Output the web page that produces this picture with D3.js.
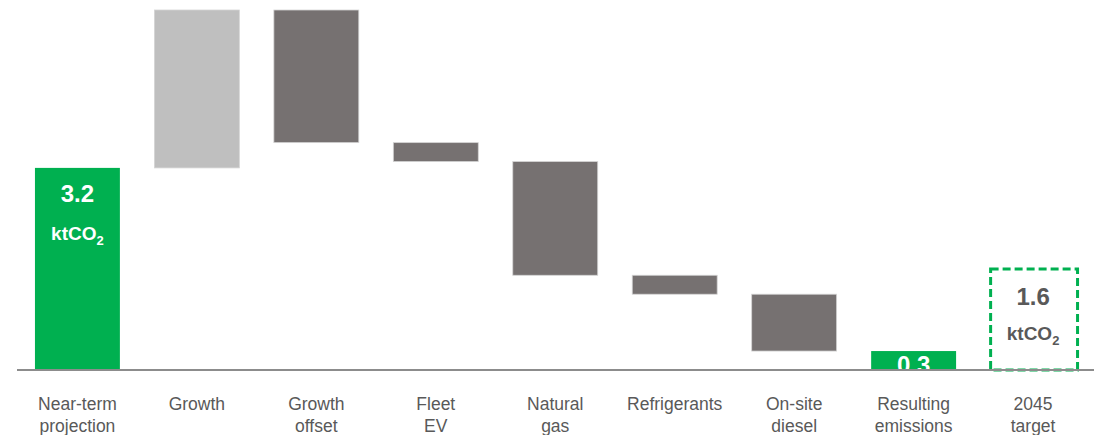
<!DOCTYPE html>
<html>
<head>
<meta charset="utf-8">
<script src="https://cdn.jsdelivr.net/npm/d3@7"></script>
<style>
  html, body { margin: 0; padding: 0; background: #fff; }
  svg { display: block; font-family: "Liberation Sans", Arial, sans-serif; }
</style>
</head>
<body>
<svg id="chart" width="1104" height="435"></svg>
<script>
// Emissions bridge, ktCO2
const categories = ["Near-term projection", "Growth", "Growth offset", "Fleet EV", "Natural gas",
                    "Refrigerants", "On-site diesel", "Resulting emissions", "2045 target"];
const labelLines = [["Near-term", "projection"], ["Growth"], ["Growth", "offset"], ["Fleet", "EV"],
                    ["Natural", "gas"], ["Refrigerants"], ["On-site", "diesel"],
                    ["Resulting", "emissions"], ["2045", "target"]];
// signed change per step; totals are marked by kind
const values = [3.2, 2.5, -2.1, -0.3, -1.8, -0.3, -0.9, 0.3, 1.6];
const kinds = ["total", "increase", "decrease", "decrease", "decrease", "decrease", "decrease", "total", "target"];

const colors = { total: "#00B050", increase: "#BFBFBF", decrease: "#767171", target: "#00B050" };

// running start/end for each step
let running = 0;
const steps = categories.map((c, i) => {
  let y0, y1;
  if (kinds[i] === "total" || kinds[i] === "target") { y0 = 0; y1 = values[i]; running = values[i]; }
  else { y0 = running; y1 = running + values[i]; running = y1; }
  return { cat: c, lines: labelLines[i], kind: kinds[i], value: values[i], lo: Math.min(y0, y1), hi: Math.max(y0, y1) };
});

const svg = d3.select("#chart");
const baseY = 370;

const x = d3.scaleBand().domain(categories).range([17.75, 1092.75]).paddingInner(0.289).paddingOuter(0.144);
const yMax = d3.max(steps, d => d.hi);
const y = d3.scaleLinear().domain([0, yMax]).range([baseY, 10]);

// bars (excluding the dashed target)
svg.append("g").selectAll("rect")
  .data(steps.filter(d => d.kind !== "target"))
  .join("rect")
  .attr("x", d => x(d.cat))
  .attr("width", x.bandwidth())
  .attr("y", d => y(d.hi))
  .attr("height", d => y(d.lo) - y(d.hi))
  .attr("fill", d => colors[d.kind])
  .attr("stroke", d => d.kind === "total" ? "none" : "#d4d4d4")
  .attr("stroke-width", 0.8);

// dashed target box
const tgt = steps.find(d => d.kind === "target");
svg.append("rect")
  .attr("x", x(tgt.cat))
  .attr("width", x.bandwidth() + 2)
  .attr("y", y(tgt.hi))
  .attr("height", y(tgt.lo) - y(tgt.hi))
  .attr("fill", "none")
  .attr("stroke", colors.target)
  .attr("stroke-width", 3)
  .attr("stroke-dasharray", "8,4");

// value labels with unit
function unitLabel(d, fill, valueOffset, unitOffset) {
  const cx = x(d.cat) + x.bandwidth() / 2;
  const top = y(d.hi);
  svg.append("text")
    .attr("x", cx).attr("y", top + valueOffset)
    .attr("text-anchor", "middle")
    .attr("font-size", 24).attr("font-weight", "bold")
    .attr("fill", fill)
    .text(d3.format(".1f")(d.value));
  const t = svg.append("text")
    .attr("x", cx).attr("y", top + unitOffset)
    .attr("text-anchor", "middle")
    .attr("font-size", 19).attr("font-weight", "bold")
    .attr("fill", fill);
  t.append("tspan").text("ktCO");
  t.append("tspan").attr("font-size", 13).attr("dy", 5).text("2");
}
unitLabel(steps[0], "#ffffff", 34, 72);
unitLabel(tgt, "#595959", 36, 71);

// resulting emissions value inside its bar
const res = steps[7];
svg.append("text")
  .attr("x", x(res.cat) + x.bandwidth() / 2)
  .attr("y", baseY + 3)
  .attr("text-anchor", "middle")
  .attr("font-size", 24).attr("font-weight", "bold")
  .attr("fill", "#ffffff")
  .text(d3.format(".1f")(res.value));

// baseline
svg.append("line")
  .attr("x1", 17).attr("x2", 1094)
  .attr("y1", baseY).attr("y2", baseY)
  .attr("stroke", "#8C8C8C").attr("stroke-width", 2);

// category labels
const lab = svg.append("g").selectAll("text")
  .data(steps)
  .join("text")
  .attr("x", d => x(d.cat) + x.bandwidth() / 2)
  .attr("y", 410)
  .attr("text-anchor", "middle")
  .attr("font-size", 17.5)
  .attr("fill", "#595959");
lab.selectAll("tspan")
  .data(d => d.lines.map(l => ({ l, cx: x(d.cat) + x.bandwidth() / 2 })))
  .join("tspan")
  .attr("x", d => d.cx)
  .attr("dy", (d, i) => i === 0 ? 0 : 22)
  .text(d => d.l);
</script>
</body>
</html>
